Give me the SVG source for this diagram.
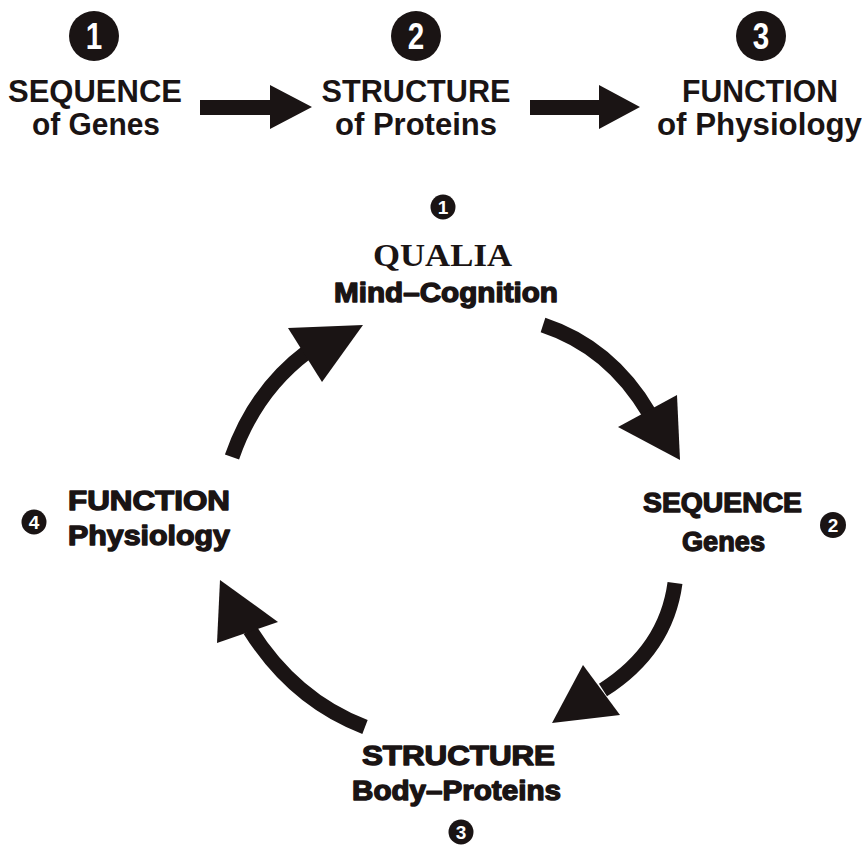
<svg xmlns="http://www.w3.org/2000/svg" width="862" height="849" viewBox="0 0 862 849">
<style>
.bg{fill:#fff}
.num{fill:#1a1414}
.numt{font-family:"Liberation Sans",Arial,sans-serif;font-weight:bold;fill:#fff;text-anchor:middle}
.top{font-family:"Liberation Sans",Arial,sans-serif;font-weight:bold;font-size:31px;fill:#1a1414;text-anchor:middle}
.heavy{font-family:"Liberation Sans",Arial,sans-serif;font-weight:bold;font-size:28px;fill:#1a1414;stroke:#1a1414;stroke-width:1.4;stroke-linejoin:round}
.serif{font-family:"Liberation Serif","Times New Roman",serif;font-weight:bold;font-size:31px;fill:#1a1414}
.shaft{fill:none;stroke:#1a1414;stroke-width:15;stroke-linecap:butt}
.head{fill:#1a1414}
</style>
<rect class="bg" x="0" y="0" width="862" height="849"/>

<g id="top-sequence">
<circle class="num" cx="94" cy="36" r="25"/>
<text class="numt" x="94" y="49" font-size="37" transform="translate(94,0) scale(0.8,1) translate(-94,0)">1</text>
<text class="top" x="95" y="102" textLength="174" lengthAdjust="spacingAndGlyphs">SEQUENCE</text>
<text class="top" x="96" y="135" textLength="128" lengthAdjust="spacingAndGlyphs">of Genes</text>
</g>
<g id="top-structure">
<circle class="num" cx="416" cy="36" r="25"/>
<text class="numt" x="416" y="49" font-size="37" transform="translate(416,0) scale(0.8,1) translate(-416,0)">2</text>
<text class="top" x="416" y="102" textLength="189" lengthAdjust="spacingAndGlyphs">STRUCTURE</text>
<text class="top" x="416" y="135" textLength="162" lengthAdjust="spacingAndGlyphs">of Proteins</text>
</g>
<g id="top-function">
<circle class="num" cx="761" cy="36" r="25"/>
<text class="numt" x="761" y="49" font-size="37" transform="translate(761,0) scale(0.8,1) translate(-761,0)">3</text>
<text class="top" x="760" y="102" textLength="156" lengthAdjust="spacingAndGlyphs">FUNCTION</text>
<text class="top" x="657" y="135" style="text-anchor:start" textLength="205" lengthAdjust="spacingAndGlyphs">of Physiology</text>
</g>

<g id="qualia">
<circle class="num" cx="443" cy="207" r="12.5"/>
<text class="numt" x="443" y="214" font-size="19">1</text>
<text class="serif" x="373" y="266" textLength="139" lengthAdjust="spacingAndGlyphs">QUALIA</text>
<text class="heavy" x="334" y="302" textLength="224" lengthAdjust="spacingAndGlyphs">Mind–Cognition</text>
</g>
<g id="sequence">
<text class="heavy" x="643" y="512" textLength="159" lengthAdjust="spacingAndGlyphs">SEQUENCE</text>
<text class="heavy" x="682" y="551" textLength="83" lengthAdjust="spacingAndGlyphs">Genes</text>
<circle class="num" cx="833" cy="525" r="13"/>
<text class="numt" x="833" y="532" font-size="19">2</text>
</g>
<g id="structure">
<text class="heavy" x="362" y="765" textLength="193" lengthAdjust="spacingAndGlyphs">STRUCTURE</text>
<text class="heavy" x="352" y="800" textLength="209" lengthAdjust="spacingAndGlyphs">Body–Proteins</text>
<circle class="num" cx="461" cy="832" r="12.5"/>
<text class="numt" x="461" y="839" font-size="19">3</text>
</g>
<g id="function">
<circle class="num" cx="34" cy="522" r="12.5"/>
<text class="numt" x="34" y="529" font-size="19">4</text>
<text class="heavy" x="68" y="510" textLength="162" lengthAdjust="spacingAndGlyphs">FUNCTION</text>
<text class="heavy" x="68" y="545" textLength="162" lengthAdjust="spacingAndGlyphs">Physiology</text>
</g>

<g id="connectors">
<polygon class="head" points="200,100 270,100 270,85 312,107 270,129 270,115 200,115"/>
<polygon class="head" points="530,100 599,100 599,85 640,107 599,129 599,115 530,115"/>

<path class="shaft" d="M543,325 Q610,347 649,413"/>
<polygon class="head" points="618,427 677,395 680,460"/>

<path class="shaft" d="M675,583 Q666,650 603,690"/>
<polygon class="head" points="583,665 620,715 552,723"/>

<path class="shaft" d="M365,727 Q294,700 250,630"/>
<polygon class="head" points="278,622 217,643 220,580"/>

<path class="shaft" d="M232,457 Q255,391 307,352"/>
<polygon class="head" points="288,328 322,382 363,325"/>
</g>
</svg>
